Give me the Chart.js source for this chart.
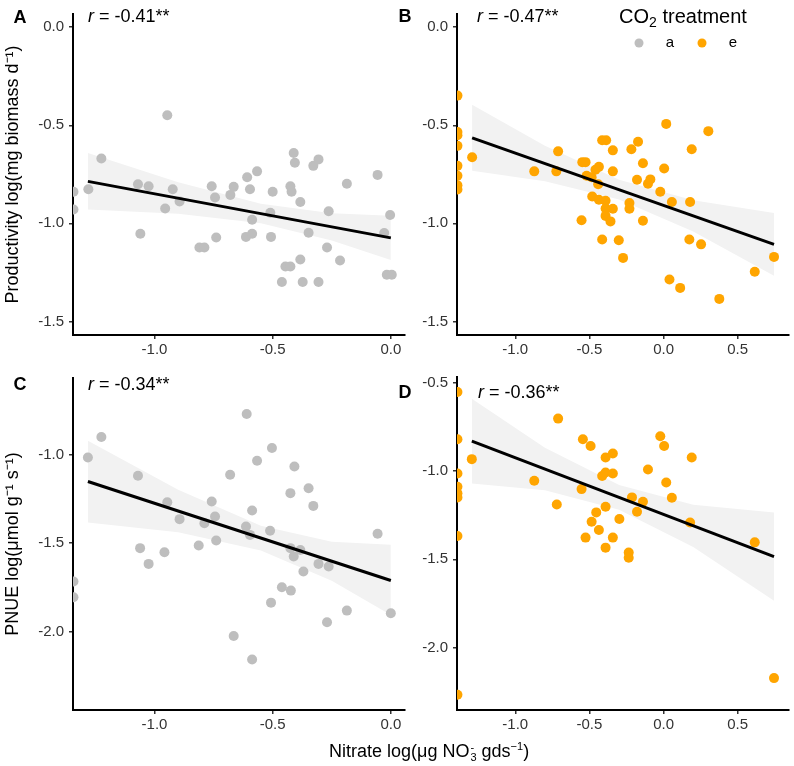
<!DOCTYPE html>
<html>
<head>
<meta charset="utf-8">
<script src="https://cdn.jsdelivr.net/npm/chart.js@4.4.1/dist/chart.umd.min.js"></script>
<style>
  body { margin: 0; background: #fff; }
  #wrap { position: relative; width: 794px; height: 766px; overflow: hidden; }
  .pan { position: absolute; }
  #xtitle { position: absolute; left: 329px; top: 741px; font: 18px "Liberation Sans", Arial, sans-serif; line-height: 21px; color: #000; white-space: nowrap; }
  #xtitle .ss { display: inline-flex; flex-direction: column; font-size: 11px; line-height: 10px; vertical-align: 6px; margin-left: 1px; }
  #xtitle sup { font-size: 11px; vertical-align: 7px; line-height: 0; }
</style>
</head>
<body>
<div id="wrap">
  <div class="pan" style="left:0;top:0"><canvas id="cA" width="410" height="360"></canvas></div>
  <div class="pan" style="left:392px;top:0"><canvas id="cB" width="402" height="360"></canvas></div>
  <div class="pan" style="left:0;top:360px"><canvas id="cC" width="410" height="406"></canvas></div>
  <div class="pan" style="left:392px;top:360px"><canvas id="cD" width="402" height="406"></canvas></div>
  <div id="xtitle">Nitrate log(μg NO<span class="ss"><span>-</span><span>3</span></span> gds<sup>−1</sup>)</div>
</div>
<script>
// CO2 treatment: a = ambient (grey), e = elevated (orange)
const colAmb = '#BEBEBE';
const colElev = '#FFA500';

// tick labels
const xTicksAC = [-1.0, -0.5, 0.0];
const xTicksBD = [-1.0, -0.5, 0.0, 0.5];
const yTicksAB = [0.0, -0.5, -1.0, -1.5];
const yTicksC = [-1.0, -1.5, -2.0];
const yTicksD = [-0.5, -1.0, -1.5, -2.0];

// A: productivity, ambient
const nitrateA = [-1.343,-1.343,-1.28,-1.225,-1.07,-1.025,-1.06,-0.946,-0.955,-0.923,-0.894,-0.81,-0.789,-0.758,-0.744,-0.739,-0.679,-0.665,-0.608,-0.596,-0.566,-0.587,-0.613,-0.587,-0.507,-0.51,-0.5,-0.461,-0.446,-0.425,-0.425,-0.42,-0.411,-0.406,-0.383,-0.383,-0.373,-0.348,-0.328,-0.306,-0.306,-0.27,-0.263,-0.215,-0.186,-0.056,-0.028,-0.003,-0.017,0.004];
const prodA = [-0.839,-0.929,-0.826,-0.669,-0.801,-0.811,-1.053,-0.449,-0.924,-0.826,-0.888,-1.123,-1.123,-0.811,-0.868,-1.072,-0.855,-0.814,-0.765,-0.826,-0.735,-0.982,-1.069,-1.053,-1.069,-0.946,-0.839,-1.299,-1.22,-1.22,-0.811,-0.839,-0.641,-0.691,-0.891,-1.184,-1.299,-1.048,-0.707,-0.674,-1.299,-1.123,-0.938,-1.189,-0.798,-0.753,-1.049,-0.957,-1.262,-1.262];
const fitXA = [-1.282, 0.0];
const fitYA = [-0.786, -1.074];
const bandXA = [-1.282, -0.9, -0.55, -0.25, 0.0];
const bandHiA = [-0.642, -0.791, -0.900, -0.948, -0.961];
const bandLoA = [-0.930, -0.951, -1.000, -1.088, -1.187];

// B: productivity, elevated
const nitrateB = [-1.39,-1.39,-1.39,-1.39,-1.39,-1.39,-1.39,-1.39,-1.291,-0.872,-0.723,-0.711,-0.553,-0.548,-0.526,-0.519,-0.485,-0.481,-0.459,-0.436,-0.441,-0.436,-0.414,-0.414,-0.387,-0.391,-0.391,-0.391,-0.358,-0.342,-0.342,-0.342,-0.302,-0.273,-0.23,-0.23,-0.217,-0.172,-0.179,-0.139,-0.139,-0.105,-0.089,-0.022,0.004,0.018,0.04,0.056,0.112,0.174,0.179,0.19,0.253,0.302,0.376,0.615,0.745];
const prodB = [-0.349,-0.535,-0.551,-0.605,-0.707,-0.757,-0.806,-0.827,-0.663,-0.735,-0.735,-0.633,-0.984,-0.688,-0.688,-0.757,-0.765,-0.863,-0.727,-0.712,-0.801,-0.88,-1.082,-0.576,-0.576,-0.885,-0.924,-0.962,-0.99,-0.628,-0.735,-0.926,-1.086,-1.176,-0.896,-0.926,-0.622,-0.584,-0.778,-0.694,-0.987,-0.798,-0.776,-0.839,-0.72,-0.493,-1.286,-0.891,-1.329,-1.082,-0.891,-0.622,-1.107,-0.53,-1.385,-1.247,-1.171];
const fitXB = [-1.291, 0.745];
const fitYB = [-0.564, -1.107];
const bandXB = [-1.291, -0.8, -0.3, 0.2, 0.745];
const bandHiB = [-0.396, -0.605, -0.778, -0.882, -0.947];
const bandLoB = [-0.732, -0.785, -0.878, -1.042, -1.267];

// C: PNUE, ambient
const nitrateC = [-1.343,-1.343,-1.282,-1.225,-1.07,-1.061,-1.025,-0.958,-0.946,-0.894,-0.813,-0.789,-0.758,-0.744,-0.739,-0.68,-0.665,-0.61,-0.613,-0.596,-0.587,-0.587,-0.566,-0.503,-0.511,-0.507,-0.461,-0.425,-0.425,-0.423,-0.408,-0.411,-0.383,-0.37,-0.348,-0.328,-0.306,-0.263,-0.27,-0.186,-0.056,0.0];
const pnueC = [-1.717,-1.806,-1.015,-0.9,-1.119,-1.528,-1.617,-1.551,-1.268,-1.364,-1.513,-1.387,-1.264,-1.349,-1.485,-1.113,-2.025,-0.77,-1.406,-1.453,-1.315,-2.157,-1.034,-0.962,-1.43,-1.836,-1.749,-1.217,-1.528,-1.768,-1.066,-1.575,-1.538,-1.66,-1.189,-1.289,-1.617,-1.632,-1.947,-1.881,-1.447,-1.896];
const fitXC = [-1.282, 0.0];
const fitYC = [-1.151, -1.711];
const bandXC = [-1.282, -0.9, -0.55, -0.25, 0.0];
const bandHiC = [-0.921, -1.198, -1.401, -1.492, -1.509];
const bandLoC = [-1.383, -1.438, -1.541, -1.712, -1.906];

// D: PNUE, elevated
const nitrateD = [-1.39,-1.39,-1.39,-1.39,-1.39,-1.39,-1.39,-1.39,-1.293,-0.872,-0.72,-0.711,-0.553,-0.544,-0.526,-0.492,-0.485,-0.454,-0.436,-0.414,-0.391,-0.391,-0.391,-0.391,-0.342,-0.342,-0.342,-0.298,-0.235,-0.235,-0.213,-0.179,-0.139,-0.105,-0.022,0.004,0.018,0.056,0.179,0.19,0.615,0.745];
const pnueD = [-0.551,-0.819,-1.013,-1.089,-1.126,-1.149,-1.368,-2.268,-0.932,-1.055,-1.189,-0.702,-1.102,-0.819,-1.377,-0.857,-1.287,-1.234,-1.334,-1.028,-0.923,-1.008,-1.202,-1.434,-0.9,-1.013,-1.377,-1.272,-1.462,-1.491,-1.149,-1.23,-1.174,-0.991,-0.802,-0.857,-1.064,-1.151,-1.291,-0.923,-1.404,-2.174];
const fitXD = [-1.293, 0.745];
const fitYD = [-0.830, -1.485];
const bandXD = [-1.293, -0.8, -0.3, 0.2, 0.745];
const bandHiD = [-0.590, -0.868, -1.079, -1.190, -1.235];
const bandLoD = [-1.070, -1.108, -1.219, -1.430, -1.735];

const FONT = '"Liberation Sans", Arial, Helvetica, sans-serif';
Chart.defaults.font.family = FONT;

const xy = (xs, ys) => xs.map((x, i) => ({ x, y: ys[i] }));

// panel letter, r annotation and (panel B only) the CO2 legend
const panelText = {
    id: 'panelText',
    afterDraw(chart, args, o) {
        const c = chart.ctx;
        c.save();
        c.fillStyle = '#000';
        c.textBaseline = 'middle';
        c.textAlign = 'center';
        c.font = 'bold 18px ' + FONT;
        c.fillText(o.letter, o.lx, o.ly);
        c.textAlign = 'left';
        c.font = 'italic 18px ' + FONT;
        c.fillText('r', o.rx, o.ry);
        const w = c.measureText('r').width;
        c.font = '18px ' + FONT;
        c.fillText(' = ' + o.r, o.rx + w, o.ry);
        if (o.legend) {
            const L = o.legend;
            c.font = '20px ' + FONT;
            const w1 = c.measureText('CO').width, w3 = c.measureText(' treatment').width;
            c.font = '14px ' + FONT;
            const w2 = c.measureText('2').width;
            let x = L.cx - (w1 + w2 + w3) / 2;
            c.font = '20px ' + FONT;
            c.fillText('CO', x, L.ty);
            c.font = '14px ' + FONT;
            c.fillText('2', x + w1, L.ty + 6);
            c.font = '20px ' + FONT;
            c.fillText(' treatment', x + w1 + w2, L.ty);
            c.textAlign = 'center';
            c.font = '15px ' + FONT;
            L.items.forEach(it => {
                c.fillStyle = it.color;
                c.beginPath(); c.arc(it.dx, L.iy, 4.5, 0, Math.PI * 2); c.fill();
                c.fillStyle = '#000';
                c.fillText(it.label, it.tx, L.iy);
            });
        }
        c.restore();
    }
};

function panel(id, p) {
    const tickFont = { size: 15, family: FONT };
    return new Chart(document.getElementById(id), {
        type: 'scatter',
        data: {
            datasets: [
                { label: 'fit', data: xy(p.fitX, p.fitY), showLine: true, borderColor: '#000', borderWidth: 3,
                  pointRadius: 0, order: 0 },
                { label: 'obs', data: xy(p.x, p.y), pointRadius: 5, pointBorderWidth: 0,
                  pointBackgroundColor: p.color, backgroundColor: p.color, clip: 0, order: 1 },
                { label: 'ci hi', data: xy(p.bandX, p.bandHi), showLine: true, borderWidth: 0, borderColor: 'rgba(0,0,0,0)',
                  pointRadius: 0, fill: '+1', backgroundColor: '#F2F2F2', order: 2 },
                { label: 'ci lo', data: xy(p.bandX, p.bandLo), showLine: true, borderWidth: 0, borderColor: 'rgba(0,0,0,0)',
                  pointRadius: 0, fill: false, order: 3 }
            ]
        },
        options: {
            responsive: false, animation: false, events: [],
            devicePixelRatio: 1,
            layout: { padding: p.pad },
            plugins: { legend: { display: false }, tooltip: { enabled: false }, panelText: p.text },
            scales: {
                x: {
                    type: 'linear', min: p.xmin, max: p.xmax,
                    afterFit: s => { s.height = 25; },
                    afterBuildTicks: s => { s.ticks = p.xt.map(v => ({ value: v })); },
                    ticks: { callback: v => v.toFixed(1), color: '#333', font: tickFont, padding: 2, maxRotation: 0, autoSkip: false },
                    grid: { drawOnChartArea: false, tickLength: 4, color: '#333', lineWidth: 1.5 },
                    border: { color: '#000', width: 2 }
                },
                y: {
                    type: 'linear', min: p.ymin, max: p.ymax,
                    afterFit: s => { s.width = p.yw; },
                    afterBuildTicks: s => { s.ticks = p.yt.map(v => ({ value: v })); },
                    ticks: { callback: v => v.toFixed(1), color: '#333', font: tickFont, padding: 5, autoSkip: false },
                    grid: { drawOnChartArea: false, tickLength: 4, color: '#333', lineWidth: 1.5 },
                    border: { color: '#000', width: 2 },
                    title: { display: !!p.ytitle, text: p.ytitle || '', color: '#000', font: { size: 18, family: FONT }, padding: { top: 2, bottom: 2 } }
                }
            }
        },
        plugins: [panelText]
    });
}

panel('cA', {
    x: nitrateA, y: prodA, color: colAmb, fitX: fitXA, fitY: fitYA, bandX: bandXA, bandHi: bandHiA, bandLo: bandLoA,
    xmin: -1.345, xmax: 0.06, ymin: -1.569, ymax: 0.067, xt: xTicksAC, yt: yTicksAB, yw: 73,
    pad: { top: 3, right: 4, bottom: 0, left: 0 },
    ytitle: 'Productivity log(mg biomass d⁻¹)',
    text: { letter: 'A', lx: 20, ly: 18, r: '-0.41**', rx: 88, ry: 17 }
});

panel('cB', {
    x: nitrateB, y: prodB, color: colElev, fitX: fitXB, fitY: fitYB, bandX: bandXB, bandHi: bandHiB, bandLo: bandLoB,
    xmin: -1.393, xmax: 0.846, ymin: -1.569, ymax: 0.067, xt: xTicksBD, yt: yTicksAB, yw: 65,
    pad: { top: 3, right: 3, bottom: 0, left: 0 },
    text: { letter: 'B', lx: 13, ly: 17, r: '-0.47**', rx: 85, ry: 17,
        legend: { cx: 291, ty: 17, iy: 43, items: [
            { label: 'a', color: colAmb, dx: 247, tx: 278 },
            { label: 'e', color: colElev, dx: 310, tx: 341 }
        ] } }
});

panel('cC', {
    x: nitrateC, y: pnueC, color: colAmb, fitX: fitXC, fitY: fitYC, bandX: bandXC, bandHi: bandHiC, bandLo: bandLoC,
    xmin: -1.345, xmax: 0.06, ymin: -2.443, ymax: -0.566, xt: xTicksAC, yt: yTicksC, yw: 73,
    pad: { top: 18, right: 4, bottom: 31, left: 0 },
    ytitle: 'PNUE log(μmol g⁻¹ s⁻¹)',
    text: { letter: 'C', lx: 20, ly: 25, r: '-0.34**', rx: 88, ry: 25 }
});

panel('cD', {
    x: nitrateD, y: pnueD, color: colElev, fitX: fitXD, fitY: fitYD, bandX: bandXD, bandHi: bandHiD, bandLo: bandLoD,
    xmin: -1.393, xmax: 0.846, ymin: -2.355, ymax: -0.466, xt: xTicksBD, yt: yTicksD, yw: 65,
    pad: { top: 17, right: 3, bottom: 31, left: 0 },
    text: { letter: 'D', lx: 13, ly: 33, r: '-0.36**', rx: 86, ry: 33 }
});
</script>
</body>
</html>
